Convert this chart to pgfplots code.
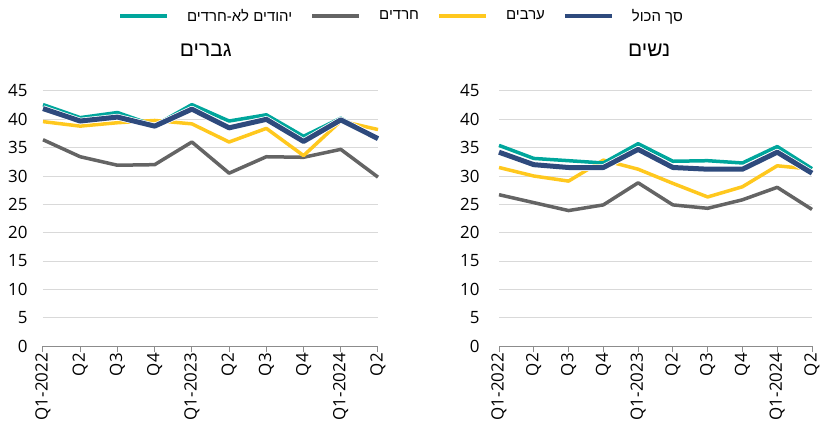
\documentclass[border=0pt]{standalone}
\usepackage{fontspec}
\setmainfont{Open Sans}
\newfontfamily\heb[Script=Hebrew]{Liberation Sans}
\TeXXeTstate=1
\usepackage{pgfplots}
\pgfplotsset{compat=1.18}
\definecolor{cteal}{RGB}{0,166,156}
\definecolor{cgray}{RGB}{100,100,100}
\definecolor{cyellow}{RGB}{255,200,30}
\definecolor{cnavy}{RGB}{46,74,125}
\definecolor{cgrid}{RGB}{217,217,217}
\definecolor{caxis}{RGB}{140,140,140}

\pgfplotsset{
  panel/.style={
    scale only axis,
    height=255bp,
    xmin=0, xmax=9, ymin=0, ymax=45,
    ytick={0,5,...,45},
    xtick={0,...,9},
    xticklabels={Q1-2022,Q2,Q3,Q4,Q1-2023,Q2,Q3,Q4,Q1-2024,Q2},
    x tick label style={rotate=90, anchor=east, font=\fontsize{17}{20}\selectfont, inner sep=1bp},
    y tick label style={font=\fontsize{17}{20}\selectfont},
    /pgf/number format/assume math mode=true,
    axis x line*=bottom,
    axis y line*=left,
    y axis line style={draw=none},
    ytick style={draw=none},
    x axis line style={draw=caxis, line width=1bp},
    xtick style={draw=caxis, line width=1bp},
    tick align=outside,
    major tick length=6bp,
    ymajorgrids,
    grid style={cgrid, line width=1bp},
    clip=false,
  },
  sgray/.style={cgray, line width=3.5bp, line join=round},
  syellow/.style={cyellow, line width=3.5bp, line join=round},
  steal/.style={cteal, line width=3.5bp, line join=round},
  swhite/.style={white, line width=6.5bp, line join=round},
  snavy/.style={cnavy, line width=5bp, line join=round},
}

\pgfplotstableread{
x teal navy yellow gray
0 42.6 41.9 39.6 36.4
1 40.3 39.7 38.8 33.4
2 41.2 40.4 39.4 31.9
3 38.9 38.8 39.8 32.0
4 42.6 41.8 39.2 36.0
5 39.7 38.5 36.0 30.5
6 40.8 40.0 38.4 33.4
7 37.0 36.1 33.6 33.3
8 40.2 39.9 39.7 34.7
9 36.6 36.6 38.2 29.8
}\men

\pgfplotstableread{
x teal navy yellow gray
0 35.4 34.2 31.5 26.7
1 33.1 32.0 30.0 25.3
2 32.7 31.5 29.1 23.9
3 32.3 31.5 32.8 24.9
4 35.7 34.7 31.2 28.8
5 32.6 31.5 28.7 24.9
6 32.7 31.2 26.3 24.3
7 32.3 31.2 28.1 25.8
8 35.2 34.2 31.8 28.0
9 31.3 30.5 31.2 24.1
}\women

\begin{document}
\begin{tikzpicture}
\begin{axis}[panel, width=335bp, at={(43bp,0)}, anchor=origin,
  y tick label style={xshift=-6bp},
  legend columns=4,
  legend style={at={(1.07,1.295)}, anchor=center, draw=none, fill=none,
    font=\fontsize{15}{18}\selectfont, column sep=16bp},
  legend image code/.code={\draw[#1] (0,0) -- (47bp,0);},
]
\addlegendimage{cteal, line width=4bp}
\addlegendentry{\heb\beginR יהודים לא-חרדים\endR}
\addlegendimage{cgray, line width=4bp}
\addlegendentry{\heb\beginR חרדים\endR}
\addlegendimage{cyellow, line width=4bp}
\addlegendentry{\heb\beginR ערבים\endR}
\addlegendimage{cnavy, line width=4bp}
\addlegendentry{\heb\beginR סך הכול\endR}
\addplot[sgray, forget plot] table[x=x, y=gray] {\men};
\addplot[syellow, forget plot] table[x=x, y=yellow] {\men};
\addplot[steal, forget plot] table[x=x, y=teal] {\men};
\addplot[swhite, forget plot] table[x=x, y=navy] {\men};
\addplot[snavy, forget plot] table[x=x, y=navy] {\men};
\node[font=\heb\fontsize{21}{24}\selectfont] at (rel axis cs:0.486,1.16) {\beginR גברים\endR};
\end{axis}
\begin{axis}[panel, width=313bp, at={(499bp,0)}, anchor=origin,
  y tick label style={xshift=-10bp},
]
\addplot[sgray] table[x=x, y=gray] {\women};
\addplot[syellow] table[x=x, y=yellow] {\women};
\addplot[steal] table[x=x, y=teal] {\women};
\addplot[swhite] table[x=x, y=navy] {\women};
\addplot[snavy] table[x=x, y=navy] {\women};
\node[font=\heb\fontsize{21}{24}\selectfont] at (rel axis cs:0.48,1.16) {\beginR נשים\endR};
\end{axis}
\pgfresetboundingbox
\path[use as bounding box] (0,-89bp) rectangle (823bp,346bp);
\end{tikzpicture}
\end{document}
